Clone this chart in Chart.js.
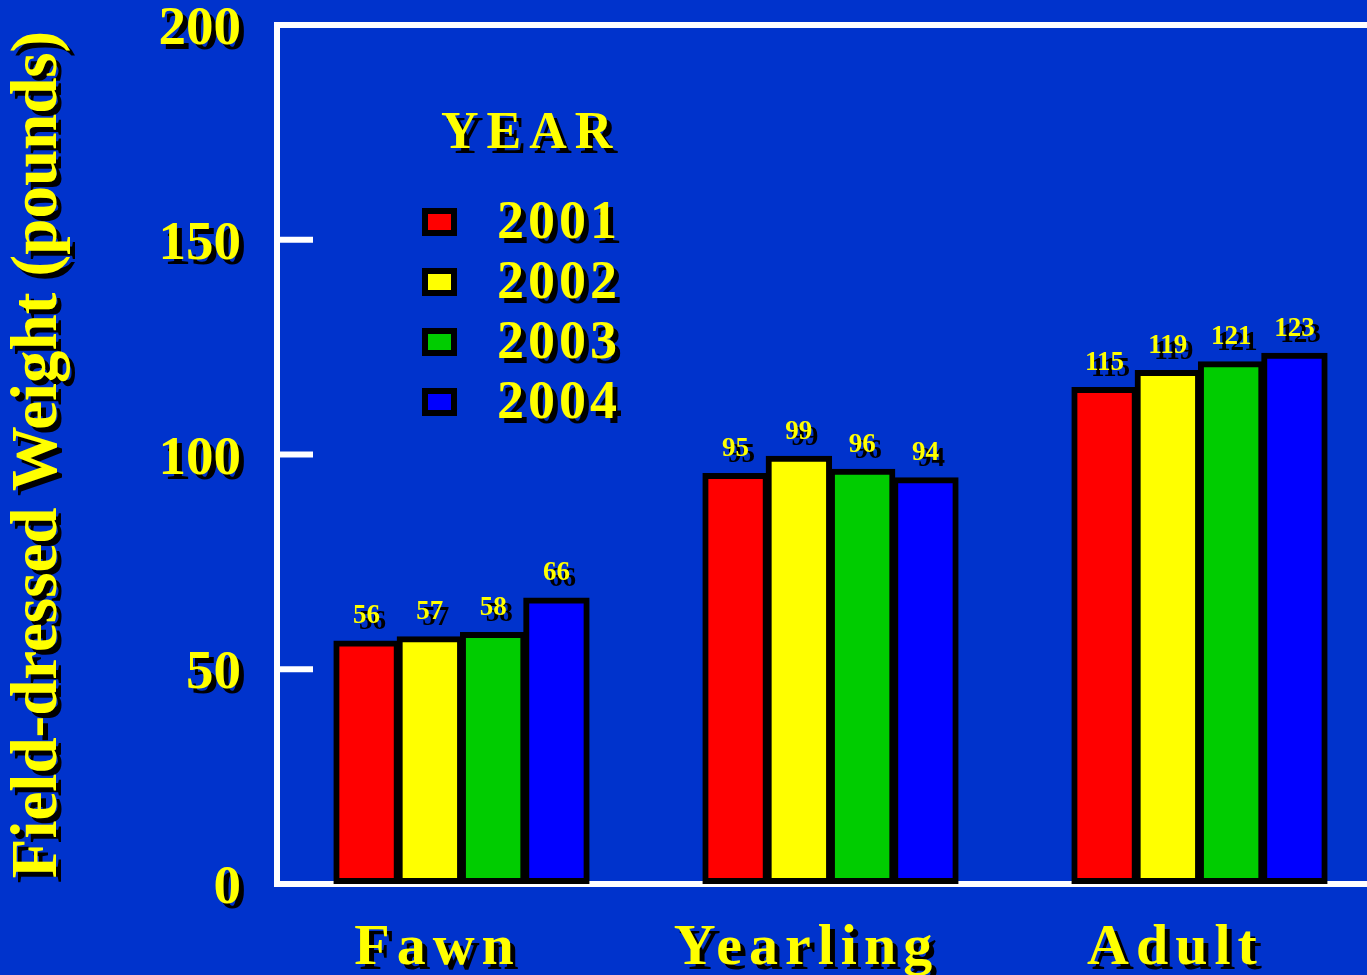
<!DOCTYPE html>
<html>
<head>
<meta charset="utf-8">
<title>Field-dressed Weight</title>
<script src="https://cdn.jsdelivr.net/npm/chart.js@4.4.0/dist/chart.umd.min.js"></script>
<style>
  html, body { margin: 0; padding: 0; overflow: hidden; background: #0033cc; }
  #weightChart { display: block; }
</style>
</head>
<body>
<canvas id="weightChart" width="1384" height="975"></canvas>
<script>
const ageClasses = ['Fawn', 'Yearling', 'Adult'];
const years = ['2001', '2002', '2003', '2004'];
const weights2001 = [56, 95, 115];
const weights2002 = [57, 99, 119];
const weights2003 = [58, 96, 121];
const weights2004 = [66, 94, 123];
const yTicks = [0, 50, 100, 150, 200];

const barColors = ['#ff0000', '#ffff00', '#00cc00', '#0000ff'];
const textColor = '#ffff00';
const serif = "'Liberation Serif', 'Times New Roman', serif";

// wrap a scale's label/title drawing so the text gets a hard black drop shadow
function shadowScaleText(scale, spacing) {
    if (!scale || scale._shadowed) return;
    scale._shadowed = true;
    ['drawLabels', 'drawTitle'].forEach(name => {
        const orig = scale[name];
        scale[name] = function(...args) {
            const ctx = this.ctx;
            ctx.save();
            ctx.shadowColor = '#000';
            ctx.shadowOffsetX = 5;
            ctx.shadowOffsetY = 5;
            ctx.shadowBlur = 0;
            if (spacing) ctx.letterSpacing = spacing;
            orig.apply(this, args);
            ctx.restore();
        };
    });
}

function shadowText(ctx, text, x, y, off) {
    ctx.fillStyle = '#000';
    ctx.fillText(text, x + off, y + off);
    ctx.fillStyle = textColor;
    ctx.fillText(text, x, y);
}

const textShadowPlugin = {
    id: 'textShadow',
    beforeDraw(chart) {
        shadowScaleText(chart.scales.x, '7px');
        shadowScaleText(chart.scales.y, null);
    }
};

// short inward tick marks on the value axis
const innerTicksPlugin = {
    id: 'innerTicks',
    beforeDatasetsDraw(chart) {
        const ctx = chart.ctx;
        const y = chart.scales.y;
        const left = chart.chartArea.left;
        ctx.save();
        ctx.strokeStyle = '#ffffff';
        ctx.lineWidth = 6;
        y.ticks.forEach(t => {
            if (t.value <= y.min || t.value >= y.max) return;
            const py = y.getPixelForValue(t.value);
            ctx.beginPath();
            ctx.moveTo(left, py);
            ctx.lineTo(left + 36, py);
            ctx.stroke();
        });
        ctx.restore();
    }
};

const valueLabelsPlugin = {
    id: 'valueLabels',
    afterDatasetsDraw(chart) {
        const ctx = chart.ctx;
        ctx.save();
        ctx.font = 'bold 27px ' + serif;
        ctx.textAlign = 'center';
        ctx.textBaseline = 'middle';
        chart.data.datasets.forEach((ds, i) => {
            chart.getDatasetMeta(i).data.forEach((bar, j) => {
                shadowText(ctx, String(ds.data[j]), bar.x, bar.y - 27, 6);
            });
        });
        ctx.restore();
    }
};

const yearLegendPlugin = {
    id: 'yearLegend',
    afterDraw(chart) {
        const ctx = chart.ctx;
        ctx.save();
        ctx.textAlign = 'left';
        ctx.textBaseline = 'middle';
        ctx.font = 'bold 52px ' + serif;
        ctx.letterSpacing = '8px';
        shadowText(ctx, 'YEAR', 441, 135, 5);
        ctx.letterSpacing = '4px';
        ctx.font = 'bold 54px ' + serif;
        chart.data.datasets.forEach((ds, i) => {
            const cy = 222 + i * 60;
            ctx.fillStyle = '#000';
            ctx.fillRect(422, cy - 14, 35, 28);
            ctx.fillStyle = ds.backgroundColor;
            ctx.fillRect(428, cy - 8, 23, 16);
            shadowText(ctx, ds.label, 497, cy + 2, 5);
        });
        ctx.restore();
    }
};

const datasets = [weights2001, weights2002, weights2003, weights2004].map((data, i) => ({
    label: years[i],
    data: data,
    backgroundColor: barColors[i],
    borderColor: '#000000',
    borderWidth: 6,
    borderSkipped: false,
    inflateAmount: 3,
    barPercentage: 0.955,
    categoryPercentage: 0.686
}));

new Chart(document.getElementById('weightChart'), {
    type: 'bar',
    data: { labels: ageClasses, datasets: datasets },
    plugins: [textShadowPlugin, innerTicksPlugin, valueLabelsPlugin, yearLegendPlugin],
    options: {
        responsive: false,
        animation: false,
        events: [],
        layout: { padding: { top: 25, right: 0, bottom: 0, left: 0 } },
        plugins: {
            legend: { display: false },
            tooltip: { enabled: false }
        },
        scales: {
            x: {
                grid: { display: false },
                border: { display: true, color: '#ffffff', width: 6 },
                ticks: {
                    color: textColor,
                    font: { family: serif, size: 58, weight: 'bold' },
                    padding: 22,
                    labelOffset: -24,
                    maxRotation: 0
                },
                afterFit(scale) {
                    scale.height = 91;
                    scale.paddingLeft = 0;
                    scale.paddingRight = 0;
                }
            },
            y: {
                min: 0,
                max: 200,
                afterBuildTicks(scale) {
                    scale.ticks = yTicks.map(v => ({ value: v }));
                },
                grid: {
                    drawTicks: false,
                    lineWidth: 6,
                    color: ctx => (ctx.tick && ctx.tick.value === 200) ? '#ffffff' : 'rgba(0,0,0,0)'
                },
                border: { display: true, color: '#ffffff', width: 6 },
                ticks: {
                    color: textColor,
                    font: { family: serif, size: 55, weight: 'bold' },
                    padding: 36,
                    labelOffset: 5
                },
                title: {
                    display: true,
                    text: 'Field-dressed Weight (pounds)',
                    color: textColor,
                    font: { family: serif, size: 65, weight: 'bold' },
                    padding: { top: 0, bottom: 0 }
                },
                afterFit(scale) {
                    scale.width = 277;
                    scale.paddingTop = 0;
                    scale.paddingBottom = 0;
                }
            }
        }
    }
});
</script>
</body>
</html>
